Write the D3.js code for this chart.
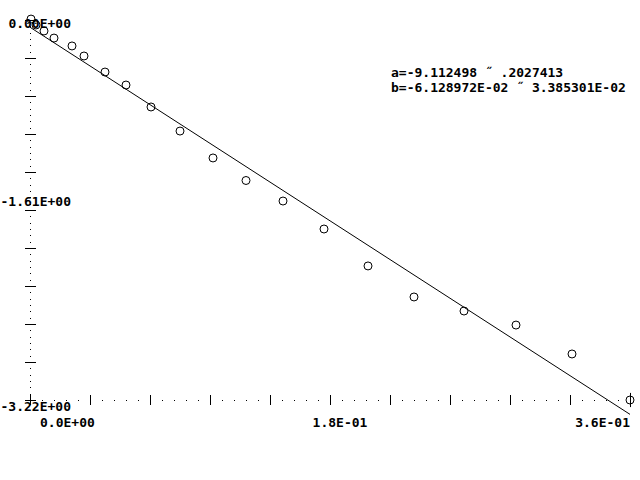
<!DOCTYPE html>
<meta charset="utf-8">
<style>
  body { margin: 0; background: #fff; }
  text { font-family: "DejaVu Sans Mono", monospace; font-size: 13px; font-weight: bold; fill: #000; }
</style>
<body>
<div id="chart"></div>
<script src="https://d3js.org/d3.v7.min.js"></script>
<script>
// measured points (x, ln y)
var xs = [0.0006, 0.0036, 0.0084, 0.0144, 0.0252, 0.0324, 0.045, 0.0576, 0.0726, 0.090,
          0.1098, 0.1296, 0.1518, 0.1764, 0.2028, 0.2304, 0.2604, 0.2916, 0.3252, 0.360];
var ys = [0.008, -0.042, -0.093, -0.153, -0.220, -0.305, -0.441, -0.551, -0.737, -0.941,
          -1.169, -1.360, -1.534, -1.771, -2.084, -2.347, -2.466, -2.585, -2.830, -3.220];
var errs = [0, 0, 0, 0, 0, 0, 0, 0, 0, 0, 0, 0, 0, 0, 0, 0, 0, 0, 0, 0.06];

// fit result
var slope = -9.112498, intercept = -6.128972E-02;
var fitText = ["a=-9.112498 \u02dd .2027413", "b=-6.128972E-02 \u02dd 3.385301E-02"];

var yLabels = [0, -1.61, -3.22];
var yLabelText = ["0.00E+00", "-1.61E+00", "-3.22E+00"];
var xLabels = [0, 0.18, 0.36];
var xLabelText = ["0.0E+00", "1.8E-01", "3.6E-01"];

var width = 640, height = 480;

var x = d3.scaleLinear().domain([0, 0.36]).range([30, 630]);
var y = d3.scaleLinear().domain([-3.22, 0]).range([400, 20]);

var svg = d3.select("#chart").append("svg")
    .attr("width", width)
    .attr("height", height);

var axes = svg.append("g").attr("shape-rendering", "crispEdges");

// dotted axis lines
axes.selectAll(".ydot")
    .data(d3.range(0, 61).map(function(i) { return -3.22 * i / 60; }))
  .enter().append("rect")
    .attr("x", x(0))
    .attr("y", function(d) { return Math.round(y(d)); })
    .attr("width", 1).attr("height", 1);

axes.selectAll(".xdot")
    .data(d3.range(0, 51).map(function(i) { return 0.0072 * i; }))
  .enter().append("rect")
    .attr("x", function(d) { return Math.round(x(d)); })
    .attr("y", y(-3.22))
    .attr("width", 1).attr("height", 1);

// major ticks
axes.selectAll(".ytick")
    .data(d3.range(0, 11).map(function(i) { return -0.322 * i; }))
  .enter().append("line")
    .attr("x1", x(0) - 5).attr("x2", x(0) + 6)
    .attr("y1", function(d) { return Math.round(y(d)) + 0.5; })
    .attr("y2", function(d) { return Math.round(y(d)) + 0.5; })
    .attr("stroke", "#000");

axes.selectAll(".xtick")
    .data(d3.range(0, 11).map(function(i) { return 0.036 * i; }))
  .enter().append("line")
    .attr("x1", function(d) { return Math.round(x(d)) + 0.5; })
    .attr("x2", function(d) { return Math.round(x(d)) + 0.5; })
    .attr("y1", y(-3.22) - 5).attr("y2", y(-3.22) + 5)
    .attr("stroke", "#000");

// tick labels
var yOff = [3, -9, 6];
svg.selectAll(".ylab")
    .data(yLabels)
  .enter().append("text")
    .attr("x", 71)
    .attr("y", function(d, i) { return y(d) + yOff[i]; })
    .attr("text-anchor", "end")
    .attr("dominant-baseline", "central")
    .text(function(d, i) { return yLabelText[i]; });

var xAnchor = ["start", "middle", "end"], xOff = [10, 10, 0];
svg.selectAll(".xlab")
    .data(xLabels)
  .enter().append("text")
    .attr("x", function(d, i) { return x(d) + xOff[i]; })
    .attr("y", 422)
    .attr("text-anchor", function(d, i) { return xAnchor[i]; })
    .attr("dominant-baseline", "central")
    .text(function(d, i) { return xLabelText[i]; });

// fitted line
svg.append("line")
    .attr("x1", x(0)).attr("y1", y(intercept))
    .attr("x2", x(0.36)).attr("y2", y(intercept + slope * 0.36))
    .attr("stroke", "#000")
    .attr("stroke-width", 1);

// error bars
svg.selectAll(".err")
    .data(d3.range(xs.length).filter(function(i) { return errs[i] > 0; }))
  .enter().append("line")
    .attr("x1", function(i) { return Math.round(x(xs[i])) + 0.5; })
    .attr("x2", function(i) { return Math.round(x(xs[i])) + 0.5; })
    .attr("y1", function(i) { return y(ys[i] + errs[i]); })
    .attr("y2", function(i) { return y(ys[i] - errs[i]); })
    .attr("stroke", "#000");

// points
svg.selectAll(".pt")
    .data(xs)
  .enter().append("circle")
    .attr("cx", function(d) { return x(d); })
    .attr("cy", function(d, i) { return y(ys[i]); })
    .attr("r", 4)
    .attr("fill", "none")
    .attr("stroke", "#000");

// fit annotation
svg.selectAll(".fit")
    .data(fitText)
  .enter().append("text")
    .attr("x", 391)
    .attr("y", function(d, i) { return 72 + i * 15; })
    .attr("dominant-baseline", "central")
    .text(function(d) { return d; });
</script>
</body>
